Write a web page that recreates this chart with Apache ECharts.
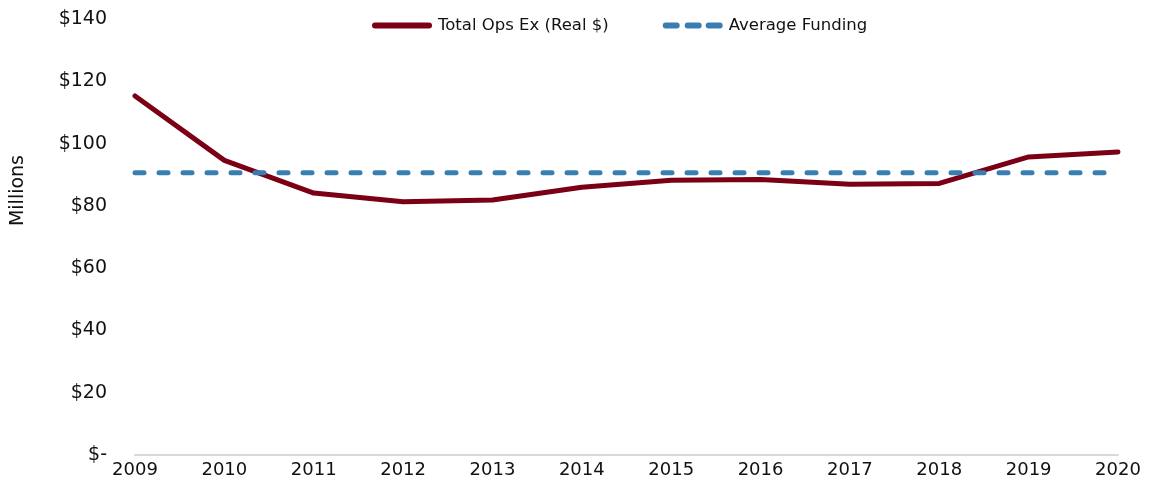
<!DOCTYPE html>
<html>
<head>
<meta charset="utf-8">
<script src="https://cdn.jsdelivr.net/npm/echarts@6/dist/echarts.min.js"></script>
<style>
  html, body { margin: 0; padding: 0; background: #fff; }
  #chart { width: 1151px; height: 498px; }
</style>
</head>
<body>
<div id="chart"></div>
<script>
const years = ['2009', '2010', '2011', '2012', '2013', '2014', '2015', '2016', '2017', '2018', '2019', '2020'];
const totalOpsEx = [115.3, 94.6, 84.1, 81.3, 81.9, 86.0, 88.2, 88.5, 86.9, 87.2, 95.7, 97.3];
const avgFunding = [90.6, 90.6, 90.6, 90.6, 90.6, 90.6, 90.6, 90.6, 90.6, 90.6, 90.6, 90.6];

const font = '"DejaVu Sans", Lato, sans-serif';
const chart = echarts.init(document.getElementById('chart'));

// legend icons drawn in a 60x6 box
const solidIcon = 'path://M3,0 H57 A3,3 0 0 1 57,6 H3 A3,3 0 0 1 3,0 Z';
const dashIcon = 'path://M3,0 H14 A3,3 0 0 1 14,6 H3 A3,3 0 0 1 3,0 Z ' +
  'M25,0 H36 A3,3 0 0 1 36,6 H25 A3,3 0 0 1 25,0 Z ' +
  'M46,0 H57 A3,3 0 0 1 57,6 H46 A3,3 0 0 1 46,0 Z';

chart.setOption({
  animation: false,
  textStyle: { fontFamily: font },
  grid: { left: 135, right: 33, top: 19, bottom: 43 },
  legend: {
    top: 12,
    left: 367,
    itemWidth: 62,
    itemHeight: 6,
    itemGap: 54,
    textStyle: { fontSize: 16.5, color: '#111', fontFamily: font },
    data: [
      { name: 'Total Ops Ex (Real $)', icon: solidIcon },
      { name: 'Average Funding', icon: dashIcon }
    ]
  },
  xAxis: {
    type: 'category',
    boundaryGap: false,
    data: years,
    axisLine: { lineStyle: { color: '#d9d9d9', width: 2 } },
    axisTick: { show: false },
    axisLabel: { fontSize: 18, color: '#111', margin: 6 }
  },
  yAxis: {
    type: 'value',
    min: 0,
    max: 140,
    interval: 20,
    splitLine: { show: false },
    axisLine: { show: false },
    axisTick: { show: false },
    axisLabel: {
      fontSize: 19,
      color: '#111',
      margin: 28,
      formatter: v => v === 0 ? '$-' : '$' + v
    }
  },
  graphic: [{
    type: 'text',
    left: 9,
    top: 155,
    rotation: Math.PI / 2,
    style: { text: 'Millions', fontSize: 19, fill: '#111', fontFamily: font }
  }],
  series: [
    {
      name: 'Total Ops Ex (Real $)',
      type: 'line',
      data: totalOpsEx,
      symbol: 'none',
      lineStyle: { color: '#7b0016', width: 5, cap: 'round' },
      itemStyle: { color: '#7b0016' },
      z: 3
    },
    {
      name: 'Average Funding',
      type: 'line',
      data: avgFunding,
      symbol: 'none',
      lineStyle: { color: '#3a7db0', width: 5, type: [9, 15], cap: 'round' },
      itemStyle: { color: '#3a7db0' },
      z: 4
    }
  ]
});
</script>
</body>
</html>
